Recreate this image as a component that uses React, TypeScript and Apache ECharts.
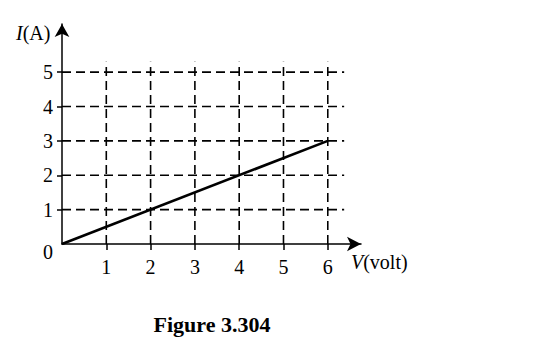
import React, { useEffect, useRef } from "react";
import * as echarts from "echarts";

// Data
const voltage = [0, 6];
const current = [0, 3];
const xTickValues = [1, 2, 3, 4, 5, 6];
const yTickValues = [1, 2, 3, 4, 5];
const yLabelValues = [0, 1, 2, 3, 4, 5];
const yAxisTitle = "(A)";
const yAxisSymbol = "I";
const xAxisTitle = "(volt)";
const xAxisSymbol = "V";
const caption = "Figure 3.304";

// Layout constants (not data)
const X_MAX = 6.75;
const Y_MAX = 6.4;
const GRID_X_END = 6.37;
const GRID_Y_END = 5.3;

const FONT = "'Liberation Serif', 'Times New Roman', serif";
const dash = [9, 5];

export default function App() {
  const ref = useRef<HTMLDivElement>(null);
  useEffect(() => {
    if (!ref.current) return;
    const chart = echarts.init(ref.current, undefined, { renderer: "svg" });
    const gridStyle = { color: "#000", width: 1.6, type: dash };
    const series: any[] = [];
    xTickValues.forEach((x) => {
      series.push({
        type: "line",
        data: [[x, 0], [x, GRID_Y_END]],
        symbol: "none",
        silent: true,
        lineStyle: gridStyle,
        z: 1,
      });
    });
    yTickValues.forEach((y) => {
      series.push({
        type: "line",
        data: [[0, y], [GRID_X_END, y]],
        symbol: "none",
        silent: true,
        lineStyle: gridStyle,
        z: 1,
      });
    });
    series.push({
      type: "line",
      data: voltage.map((v, i) => [v, current[i]]),
      symbol: "none",
      lineStyle: { color: "#000", width: 2.6 },
      z: 5,
    });

    const axisLineStyle = { color: "#000", width: 1.5 };
    const labelStyle = { color: "#000", fontFamily: FONT, fontSize: 20 };

    chart.setOption({
      animation: false,
      backgroundColor: "#fff",
      grid: { left: 62, top: 24, right: 183, bottom: 113, containLabel: false },
      xAxis: {
        type: "value",
        min: 0,
        max: X_MAX,
        axisLine: {
          show: true,
          onZero: true,
          lineStyle: axisLineStyle,
          symbol: ["none", "arrow"],
          symbolSize: [11, 14],
        },
        axisTick: { show: true, customValues: xTickValues, length: 6, lineStyle: axisLineStyle },
        axisLabel: { ...labelStyle, customValues: xTickValues, margin: 13 },
        splitLine: { show: false },
      },
      yAxis: {
        type: "value",
        min: 0,
        max: Y_MAX,
        axisLine: {
          show: true,
          onZero: true,
          lineStyle: axisLineStyle,
          symbol: ["none", "arrow"],
          symbolSize: [11, 13],
        },
        axisTick: { show: true, customValues: yTickValues, length: 5, lineStyle: axisLineStyle },
        axisLabel: {
          ...labelStyle,
          customValues: yLabelValues,
          margin: 9,
          formatter: (v: number) => (v === 0 ? "{z|0}" : String(v)),
          rich: { z: { ...labelStyle, padding: [16, 0, 0, 0] } },
        },
        splitLine: { show: false },
      },
      graphic: [
        {
          type: "text",
          x: 16,
          y: 33,
          style: {
            text: "{i|" + yAxisSymbol + "}" + yAxisTitle,
            fontFamily: FONT,
            fontSize: 20,
            fill: "#000",
            verticalAlign: "middle",
            rich: { i: { fontStyle: "italic", fontFamily: FONT, fontSize: 20, fill: "#000" } },
          },
        },
        {
          type: "text",
          x: 351,
          y: 262,
          style: {
            text: "{i|" + xAxisSymbol + "}" + xAxisTitle,
            fontFamily: FONT,
            fontSize: 20,
            fill: "#000",
            verticalAlign: "middle",
            rich: { i: { fontStyle: "italic", fontFamily: FONT, fontSize: 20, fill: "#000" } },
          },
        },
        {
          type: "text",
          x: 212,
          y: 324,
          style: {
            text: caption,
            fontFamily: FONT,
            fontSize: 22,
            fontWeight: "bold",
            fill: "#000",
            align: "center",
            verticalAlign: "middle",
          },
        },
      ],
      series,
    });
    return () => chart.dispose();
  }, []);
  return (
    <div
      ref={ref}
      style={{ position: "absolute", left: 0, top: 0, width: 544, height: 357, background: "#fff" }}
    />
  );
}
